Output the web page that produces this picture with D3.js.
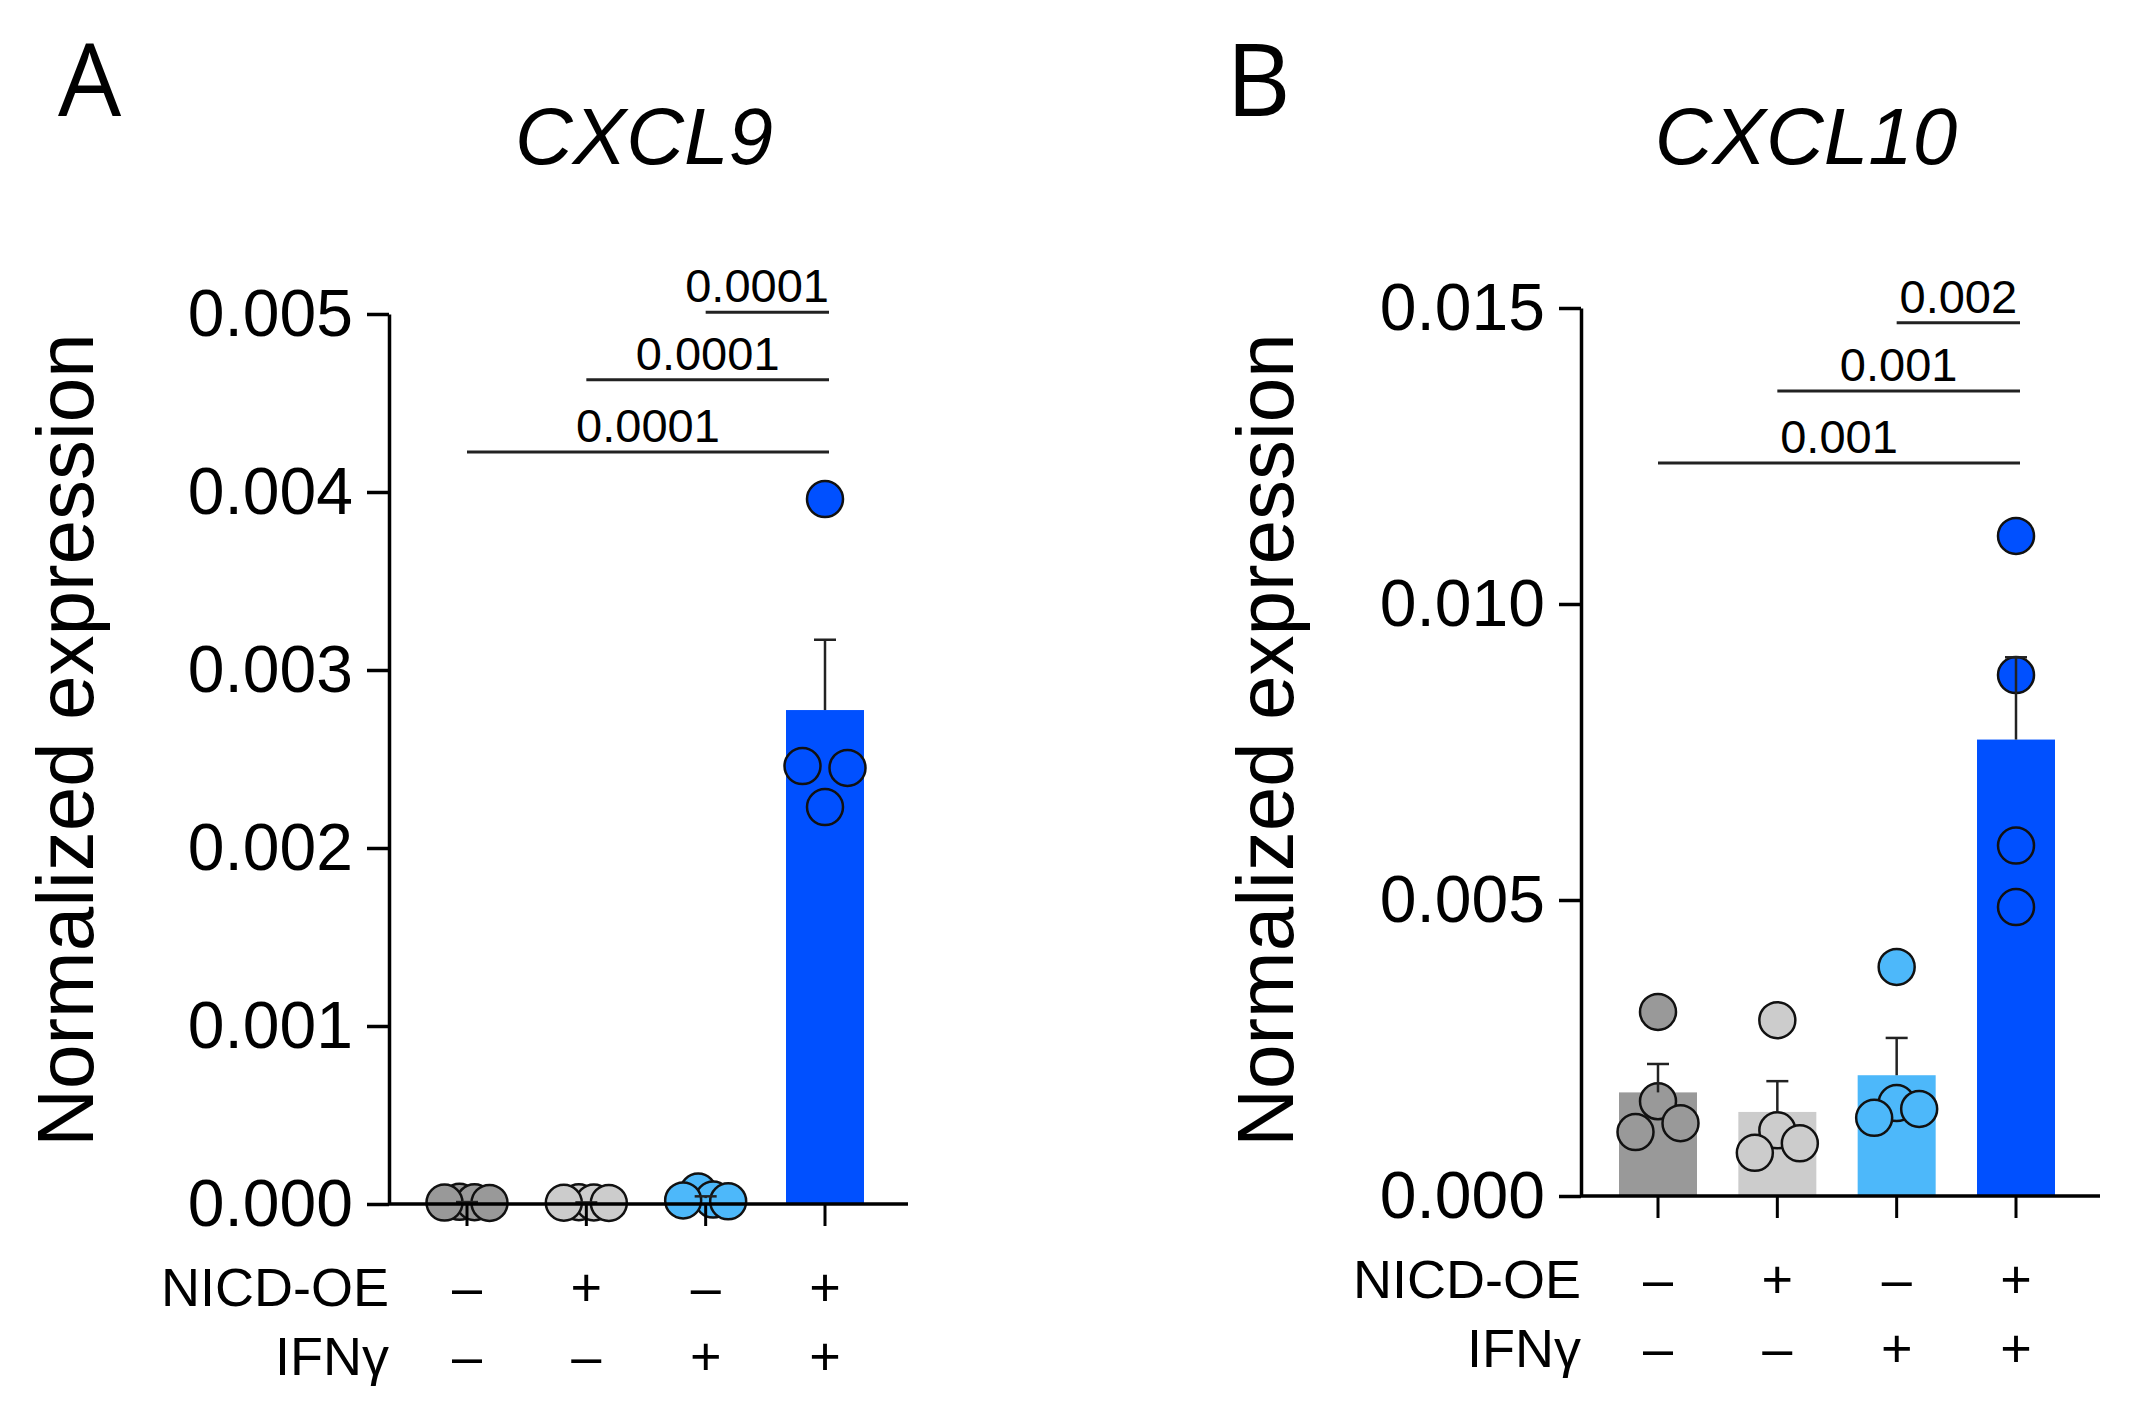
<!DOCTYPE html>
<html>
<head>
<meta charset="utf-8">
<script src="https://cdn.jsdelivr.net/npm/d3@7"></script>
<style>
  html, body { margin: 0; padding: 0; background: #ffffff; }
  svg { display: block; }
  text { font-family: "Liberation Sans", Arial, Helvetica, sans-serif; fill: #000; }
</style>
</head>
<body>
<svg id="chart" width="2139" height="1414"></svg>
<script>
// ---------------- DATA ----------------
const groups = ["g1", "g2", "g3", "g4"];
const nicdSigns = ["\u2013", "+", "\u2013", "+"];
const ifnSigns  = ["\u2013", "\u2013", "+", "+"];
const groupColors = ["#999999", "#cccccc", "#4db8fa", "#0050ff"];
const rowLabels = ["NICD-OE", "IFN\u03b3"];

// Panel A – CXCL9
const cxcl9Points = [
  [0.000010, 0.000008, 0.000012, 0.000006],
  [0.000006, 0.000009, 0.000007, 0.000010],
  [0.000070, 0.000020, 0.000015, 0.000025],
  [0.00396, 0.00246, 0.00245, 0.00223]
];
const cxcl9Means = [0.000009, 0.000008, 0.000033, 0.002775];
const cxcl9Sem   = [0.000002, 0.000001, 0.000010, 0.000395];
const cxcl9Ticks = [0, 0.001, 0.002, 0.003, 0.004, 0.005];
const cxcl9SigPairs  = [[0, 3], [1, 3], [2, 3]];
const cxcl9SigY      = [0.004225, 0.00463, 0.00501];
const cxcl9SigLabels = ["0.0001", "0.0001", "0.0001"];

// Panel B – CXCL10
const cxcl10Points = [
  [0.00311, 0.00160, 0.00108, 0.00123],
  [0.00297, 0.00111, 0.00073, 0.00089],
  [0.00387, 0.00157, 0.00132, 0.00147],
  [0.01115, 0.00880, 0.00592, 0.00488]
];
const cxcl10Means = [0.00175, 0.00142, 0.00204, 0.00771];
const cxcl10Sem   = [0.00048, 0.00052, 0.00063, 0.00139];
const cxcl10Ticks = [0, 0.005, 0.010, 0.015];
const cxcl10SigPairs  = [[0, 3], [1, 3], [2, 3]];
const cxcl10SigY      = [0.01238, 0.0136, 0.01475];
const cxcl10SigLabels = ["0.001", "0.001", "0.002"];

// ---------------- DRAW ----------------
const svg = d3.select("#chart");

function drawPanel(cfg) {
  const g = svg.append("g");
  const y = d3.scaleLinear().domain([0, cfg.yMax]).range([cfg.y0, cfg.yTop]);
  const x = d3.scalePoint().domain(groups).range([cfg.firstC, cfg.lastC]);
  const barW = 78, r = 18, capW = 22;

  // panel letter
  g.append("text").attr("x", cfg.letterX).attr("y", 116)
    .style("font-family", "'Open Sans', 'Liberation Sans', sans-serif")
    .style("font-size", "100px").text(cfg.letter);

  // title
  g.append("text").attr("x", cfg.titleX).attr("y", 164)
    .attr("text-anchor", "middle").style("font-style", "italic")
    .style("font-size", "80px").text(cfg.title);

  // y label
  g.append("text")
    .attr("transform", `translate(${cfg.yLabelX},740) rotate(-90)`)
    .attr("text-anchor", "middle").style("font-size", "80px")
    .text("Normalized expression");

  // bars
  g.selectAll("rect.bar").data(groups).join("rect")
    .attr("class", "bar")
    .attr("x", d => x(d) - barW / 2)
    .attr("width", barW)
    .attr("y", (d, i) => y(cfg.means[i]))
    .attr("height", (d, i) => cfg.y0 - y(cfg.means[i]))
    .attr("fill", (d, i) => groupColors[i]);

  // points, spread horizontally when they overlap
  const pts = [];
  groups.forEach((gname, gi) => {
    const vals = cfg.points[gi].map((v, k) => ({ v, k }))
      .sort((a, b) => b.v - a.v);
    const clusters = [];
    vals.forEach(p => {
      const last = clusters[clusters.length - 1];
      if (last && Math.abs(y(last[last.length - 1].v) - y(p.v)) < 2 * r) last.push(p);
      else clusters.push([p]);
    });
    clusters.forEach(cl => {
      const n = cl.length;
      const slotOrder = n === 3 ? [1, 2, 0] : n === 4 ? [1, 2, 0, 3] : d3.range(n);
      cl.forEach((p, j) => {
        const s = slotOrder[j];
        const off = n === 1 ? 0 : -22.5 + 45 * s / (n - 1);
        pts.push({ gi, v: p.v, cx: x(gname) + off });
      });
    });
  });
  // draw in original order
  g.selectAll("circle.pt").data(pts).join("circle")
    .attr("class", "pt")
    .attr("cx", d => d.cx)
    .attr("cy", d => y(d.v))
    .attr("r", r)
    .attr("fill", d => groupColors[d.gi])
    .attr("stroke", "#111")
    .attr("stroke-width", 2.5);

  // error bars (upper only)
  const eb = g.selectAll("g.eb").data(groups).join("g").attr("class", "eb");
  eb.append("line")
    .attr("x1", d => x(d)).attr("x2", d => x(d))
    .attr("y1", (d, i) => y(cfg.means[i]))
    .attr("y2", (d, i) => y(cfg.means[i] + cfg.sem[i]))
    .attr("stroke", "#222").attr("stroke-width", 2.5);
  eb.append("line")
    .attr("x1", d => x(d) - capW / 2).attr("x2", d => x(d) + capW / 2)
    .attr("y1", (d, i) => y(cfg.means[i] + cfg.sem[i]))
    .attr("y2", (d, i) => y(cfg.means[i] + cfg.sem[i]))
    .attr("stroke", "#222").attr("stroke-width", 2.5);

  // y axis
  const ya = g.append("g").attr("transform", `translate(${cfg.axisX},0)`)
    .call(d3.axisLeft(y).tickValues(cfg.ticks).tickFormat(d3.format(".3f"))
      .tickSize(22).tickSizeOuter(0).tickPadding(14));
  ya.select(".domain").attr("stroke", "#000").attr("stroke-width", 3.5);
  ya.selectAll(".tick line").attr("stroke", "#000").attr("stroke-width", 3.5);
  ya.selectAll(".tick text")
    .style("font-family", "'Liberation Sans', Arial, sans-serif")
    .style("font-size", "66px").attr("fill", "#000");

  // x axis line
  g.append("line").attr("x1", cfg.axisX).attr("x2", cfg.xEnd)
    .attr("y1", cfg.y0).attr("y2", cfg.y0)
    .attr("stroke", "#000").attr("stroke-width", 3.5);
  g.selectAll("line.xt").data(groups).join("line").attr("class", "xt")
    .attr("x1", d => x(d)).attr("x2", d => x(d))
    .attr("y1", cfg.y0).attr("y2", cfg.y0 + 22)
    .attr("stroke", "#000").attr("stroke-width", 3);

  // condition rows
  const rowY = [cfg.y0 + 102, cfg.y0 + 171];
  [nicdSigns, ifnSigns].forEach((signs, ri) => {
    g.append("text").attr("x", cfg.axisX).attr("y", rowY[ri])
      .attr("text-anchor", "end").style("font-size", "54px").text(rowLabels[ri]);
    g.selectAll(null).data(groups).join("text")
      .attr("x", d => x(d)).attr("y", rowY[ri])
      .attr("text-anchor", "middle").style("font-size", "54px")
      .text((d, i) => signs[i]);
  });

  // significance bars
  cfg.sigPairs.forEach((pr, si) => {
    const x1 = x(groups[pr[0]]), x2 = x(groups[pr[1]]) + 4;
    const yy = y(cfg.sigY[si]);
    g.append("line").attr("x1", x1).attr("x2", x2).attr("y1", yy).attr("y2", yy)
      .attr("stroke", "#222").attr("stroke-width", 3);
    const t = g.append("text").attr("y", yy - 10).attr("text-anchor", "middle")
      .style("font-size", "47px").text(cfg.sigLabels[si]);
    const w = t.node().getComputedTextLength();
    const cx = Math.min((x1 + x2) / 2, x2 - w / 2);
    t.attr("x", cx);
  });
}

drawPanel({
  letter: "A", letterX: 58, title: "CXCL9", titleX: 644, yLabelX: 93,
  axisX: 389, xEnd: 908, y0: 1204, yTop: 314, yMax: 0.005,
  firstC: 467, lastC: 825,
  points: cxcl9Points, means: cxcl9Means, sem: cxcl9Sem, ticks: cxcl9Ticks,
  sigPairs: cxcl9SigPairs, sigY: cxcl9SigY, sigLabels: cxcl9SigLabels
});

drawPanel({
  letter: "B", letterX: 1226, title: "CXCL10", titleX: 1806, yLabelX: 1293,
  axisX: 1581, xEnd: 2100, y0: 1196, yTop: 308, yMax: 0.015,
  firstC: 1658, lastC: 2016,
  points: cxcl10Points, means: cxcl10Means, sem: cxcl10Sem, ticks: cxcl10Ticks,
  sigPairs: cxcl10SigPairs, sigY: cxcl10SigY, sigLabels: cxcl10SigLabels
});
</script>
</body>
</html>
